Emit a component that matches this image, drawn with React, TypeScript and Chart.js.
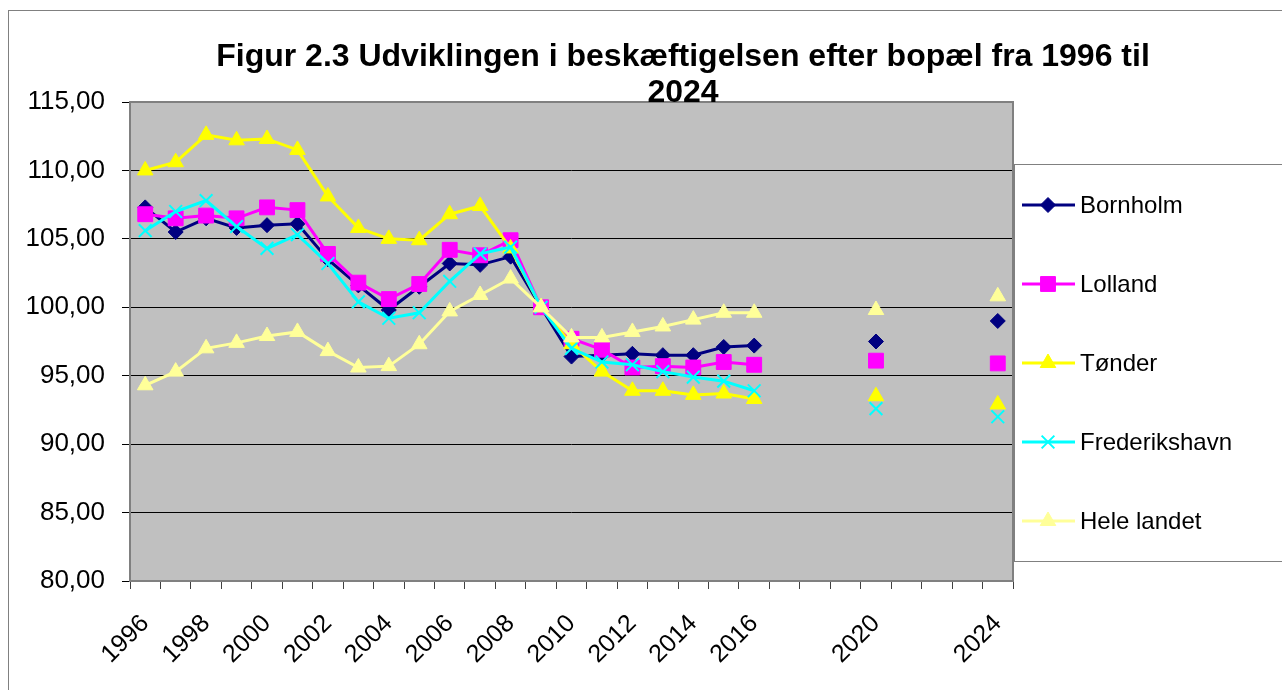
import React, { useEffect, useRef } from 'react';
import { Chart, registerables } from 'chart.js';

Chart.register(...registerables);

const years: string[] = [
  '1996', '1997', '1998', '1999', '2000', '2001', '2002', '2003', '2004', '2005',
  '2006', '2007', '2008', '2009', '2010', '2011', '2012', '2013', '2014', '2015',
  '2016', '2017', '2018', '2019', '2020', '2021', '2022', '2023', '2024',
];

const shownTickLabels: string[] = [
  '1996', '1998', '2000', '2002', '2004', '2006', '2008', '2010', '2012', '2014', '2016', '2020', '2024',
];

const bornholm: (number | null)[] = [
  107.3, 105.5, 106.5, 105.8, 106.0, 106.1, 103.5, 101.6, 99.8, 101.5,
  103.2, 103.1, 103.7, 100.0, 96.4, 96.5, 96.6, 96.5, 96.5, 97.1,
  97.2, null, null, null, 97.5, null, null, null, 99.0,
];

const lolland: (number | null)[] = [
  106.8, 106.5, 106.7, 106.5, 107.3, 107.1, 103.9, 101.8, 100.6, 101.7,
  104.2, 103.8, 104.9, 100.0, 97.7, 96.9, 95.6, 95.7, 95.6, 96.0,
  95.8, null, null, null, 96.1, null, null, null, 95.9,
];

const toender: (number | null)[] = [
  110.0, 110.6, 112.6, 112.2, 112.3, 111.5, 108.1, 105.8, 105.0, 104.9,
  106.8, 107.4, 104.3, 100.0, 97.3, 95.3, 93.9, 93.9, 93.6, 93.7,
  93.3, null, null, null, 93.5, null, null, null, 92.9,
];

const frederikshavn: (number | null)[] = [
  105.6, 107.0, 107.8, 105.9, 104.3, 105.3, 103.2, 100.4, 99.2, 99.6,
  101.9, 103.9, 104.4, 100.0, 97.0, 96.0, 95.8, 95.3, 94.9, 94.6,
  93.9, null, null, null, 92.6, null, null, null, 92.0,
];

const heleLandet: (number | null)[] = [
  94.3, 95.3, 97.0, 97.4, 97.9, 98.2, 96.8, 95.6, 95.7, 97.3,
  99.7, 100.9, 102.1, 100.0, 97.8, 97.8, 98.2, 98.6, 99.1, 99.6,
  99.6, null, null, null, 99.8, null, null, null, 100.8,
];

const seriesNames: string[] = ['Bornholm', 'Lolland', 'Tønder', 'Frederikshavn', 'Hele landet'];
const seriesValues = [bornholm, lolland, toender, frederikshavn, heleLandet];

const titleLines: string[] = ['Figur 2.3 Udviklingen i beskæftigelsen efter bopæl fra 1996 til', '2024'];

const yMin = 80;
const yMax = 115;
const yStep = 5;

type Style = { color: string; shape: string; radius: number; bw: number };
const styles: Style[] = [
  { color: '#000080', shape: 'rectRot', radius: 7.5, bw: 1 },
  { color: '#FF00FF', shape: 'rect', radius: 10.5, bw: 1 },
  { color: '#FFFF00', shape: 'triangle', radius: 9, bw: 1 },
  { color: '#00FFFF', shape: 'crossRot', radius: 9, bw: 2 },
  { color: '#FFFF99', shape: 'triangle', radius: 9, bw: 1 },
];

const FONT = '"Liberation Sans", Arial, Helvetica, sans-serif';

function drawMarker(ctx: CanvasRenderingContext2D, s: Style, x: number, y: number) {
  const r = s.radius;
  ctx.save();
  ctx.fillStyle = s.color;
  ctx.strokeStyle = s.color;
  ctx.lineWidth = s.bw;
  ctx.beginPath();
  if (s.shape === 'rectRot') {
    ctx.moveTo(x, y - r);
    ctx.lineTo(x + r, y);
    ctx.lineTo(x, y + r);
    ctx.lineTo(x - r, y);
    ctx.closePath();
    ctx.fill();
    ctx.stroke();
  } else if (s.shape === 'rect') {
    const h = Math.SQRT1_2 * r;
    ctx.rect(x - h, y - h, 2 * h, 2 * h);
    ctx.fill();
    ctx.stroke();
  } else if (s.shape === 'triangle') {
    ctx.moveTo(x, y - r);
    ctx.lineTo(x + Math.sin((2 * Math.PI) / 3) * r, y + r / 2);
    ctx.lineTo(x - Math.sin((2 * Math.PI) / 3) * r, y + r / 2);
    ctx.closePath();
    ctx.fill();
    ctx.stroke();
  } else if (s.shape === 'crossRot') {
    const o = Math.SQRT1_2 * r;
    ctx.moveTo(x - o, y - o);
    ctx.lineTo(x + o, y + o);
    ctx.moveTo(x + o, y - o);
    ctx.lineTo(x - o, y + o);
    ctx.stroke();
  }
  ctx.restore();
}

const decorPlugin = {
  id: 'decor',
  beforeDraw(chart: any) {
    const { ctx, chartArea } = chart;
    ctx.save();
    ctx.fillStyle = '#FFFFFF';
    ctx.fillRect(0, 0, chart.width, chart.height);
    ctx.strokeStyle = '#808080';
    ctx.lineWidth = 1;
    ctx.strokeRect(8.5, 10.5, 1400, 800);
    ctx.fillStyle = '#C0C0C0';
    ctx.fillRect(chartArea.left, chartArea.top, chartArea.right - chartArea.left, chartArea.bottom - chartArea.top);
    ctx.restore();
  },
  beforeDatasetsDraw(chart: any) {
    const { ctx, chartArea } = chart;
    ctx.save();
    ctx.strokeStyle = '#808080';
    ctx.lineWidth = 2;
    ctx.strokeRect(chartArea.left, chartArea.top, chartArea.right - chartArea.left, chartArea.bottom - chartArea.top);
    ctx.restore();
  },
  afterDraw(chart: any) {
    const { ctx } = chart;
    ctx.save();
    // title
    ctx.fillStyle = '#000000';
    ctx.font = `bold 32px ${FONT}`;
    ctx.textAlign = 'center';
    ctx.textBaseline = 'middle';
    ctx.fillText(titleLines[0], 683, 57);
    ctx.fillText(titleLines[1], 683, 93);
    // legend box
    ctx.fillStyle = '#FFFFFF';
    ctx.fillRect(1014, 164, 300, 397);
    ctx.strokeStyle = '#808080';
    ctx.lineWidth = 1;
    ctx.strokeRect(1014.5, 164.5, 300, 397);
    const startY = 205;
    const gap = 79;
    seriesNames.forEach((name, i) => {
      const s = styles[i];
      const y = startY + i * gap;
      ctx.strokeStyle = s.color;
      ctx.lineWidth = 3;
      ctx.beginPath();
      ctx.moveTo(1022, y);
      ctx.lineTo(1075, y);
      ctx.stroke();
      drawMarker(ctx, s, 1048, y);
      ctx.fillStyle = '#000000';
      ctx.font = `24px ${FONT}`;
      ctx.textAlign = 'left';
      ctx.textBaseline = 'middle';
      ctx.fillText(name, 1080, y + 1);
    });
    ctx.restore();
  },
};

export default function App() {
  const ref = useRef<HTMLCanvasElement | null>(null);
  useEffect(() => {
    if (!ref.current) return;
    const datasets = seriesNames.map((name, i) => ({
      label: name,
      data: seriesValues[i],
      borderColor: styles[i].color,
      backgroundColor: styles[i].color,
      borderWidth: 3,
      pointStyle: styles[i].shape,
      pointRadius: styles[i].radius,
      pointBorderWidth: styles[i].bw,
      pointBackgroundColor: styles[i].color,
      pointBorderColor: styles[i].color,
      tension: 0,
      spanGaps: false,
      order: seriesNames.length - i,
    }));
    const chart = new Chart(ref.current, {
      type: 'line',
      data: { labels: years, datasets },
      plugins: [decorPlugin],
      options: {
        responsive: false,
        devicePixelRatio: 1,
        animation: false,
        events: [],
        layout: { padding: { left: 0, right: 269, top: 102, bottom: 0 } },
        font: { family: FONT },
        plugins: {
          legend: { display: false },
          title: { display: false },
          tooltip: { enabled: false },
        },
        scales: {
          x: {
            type: 'category',
            offset: true,
            border: { display: false },
            grid: { display: true, offset: true, drawOnChartArea: false, drawTicks: true, tickLength: 8, color: '#404040', lineWidth: 1 },
            ticks: {
              autoSkip: false,
              maxRotation: 45,
              minRotation: 45,
              padding: 20,
              color: '#000000',
              font: { family: FONT, size: 25 },
              callback: (_v: any, idx: number) => (shownTickLabels.includes(years[idx]) ? years[idx] : ''),
            },
            afterFit: (scale: any) => {
              scale.height = 109;
            },
          },
          y: {
            min: yMin,
            max: yMax,
            border: { display: false },
            grid: { color: '#000000', lineWidth: 1, tickLength: 8 },
            ticks: {
              stepSize: yStep,
              padding: 17,
              color: '#000000',
              font: { family: FONT, size: 26 },
              callback: (v: any) => Number(v).toFixed(2).replace('.', ','),
            },
            afterFit: (scale: any) => {
              scale.width = 130;
            },
          },
        },
      } as any,
    });
    return () => chart.destroy();
  }, []);
  return (
    <div style={{ position: 'absolute', left: 0, top: 0, width: 1282, height: 690 }}>
      <canvas ref={ref} width={1282} height={690} style={{ display: 'block', width: 1282, height: 690 }} />
    </div>
  );
}
